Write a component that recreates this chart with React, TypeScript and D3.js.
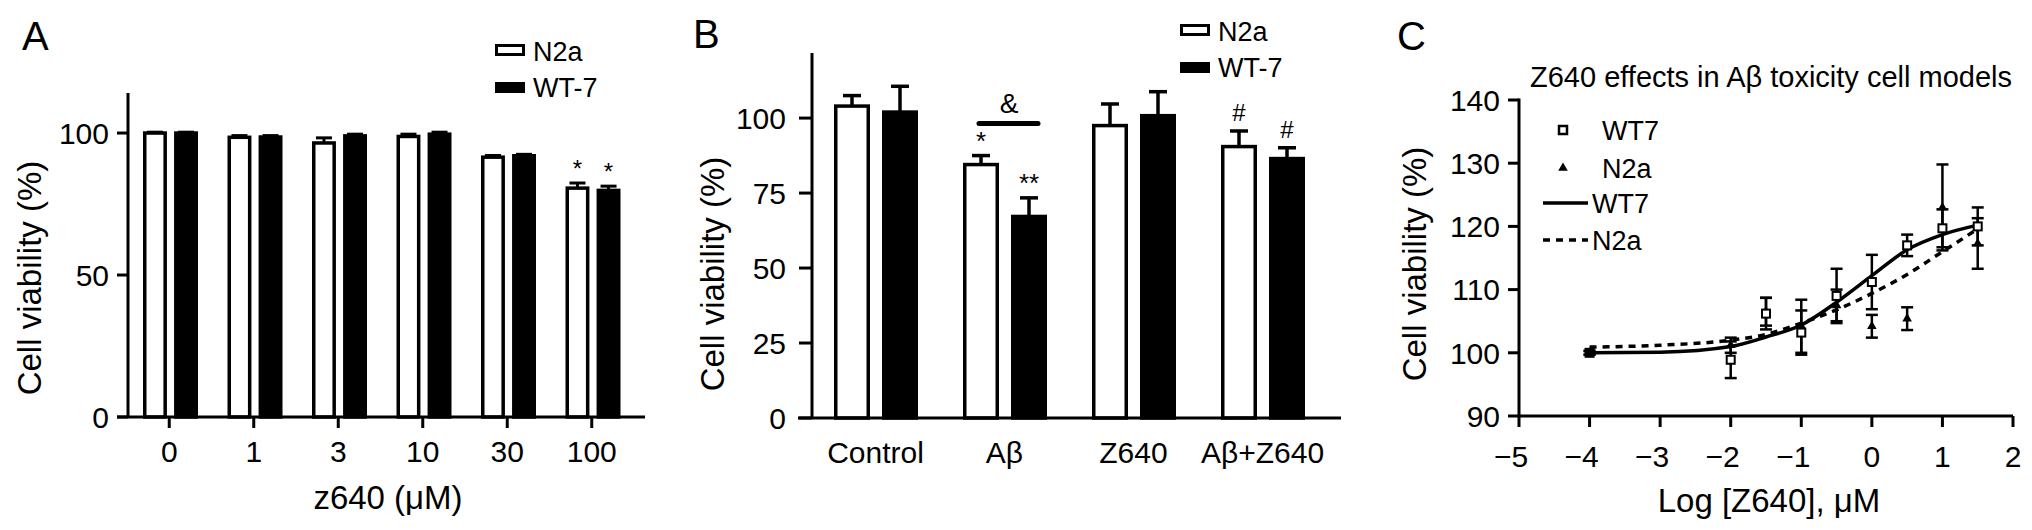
import React from 'react';
import * as d3 from 'd3';

// ---------- Panel A data ----------
const concA = ['0', '1', '3', '10', '30', '100'];
const seriesNames = ['N2a', 'WT-7'];
const n2aA = [100, 98.5, 96.5, 98.8, 91.5, 80.6];
const n2aAErr = [0.3, 0.6, 1.8, 0.8, 0.6, 1.8];
const wt7A = [100, 98.6, 99.0, 99.6, 92.0, 79.8];
const wt7AErr = [0.3, 0.5, 0.6, 0.7, 0.5, 1.5];
const n2aASig = ['', '', '', '', '', '*'];
const wt7ASig = ['', '', '', '', '', '*'];
const ticksA = [0, 50, 100];

// ---------- Panel B data ----------
const groupsB = ['Control', 'Aβ', 'Z640', 'Aβ+Z640'];
const n2aB = [104, 84.5, 97.5, 90.5];
const n2aBErr = [3.5, 3.0, 7.2, 5.2];
const wt7B = [102, 67.2, 100.8, 86.5];
const wt7BErr = [8.6, 6.2, 8.0, 3.6];
const n2aBSig = ['', '*', '', '#'];
const wt7BSig = ['', '**', '', '#'];
const ticksB = [0, 25, 50, 75, 100];

// ---------- Panel C data ----------
const logC = [-4, -2, -1.5, -1, -0.5, 0, 0.5, 1, 1.5];
const wt7C = [100, 98.9, 106.2, 103.2, 109.0, 111.2, 117.0, 119.7, 120.0];
const wt7CErr = [0.3, 2.9, 2.5, 3.5, 4.3, 4.3, 1.7, 3.0, 3.0];
const n2aC = [100, 101.2, 106.5, 104.2, 107.5, 104.2, 105.4, 123.0, 117.3];
const n2aCErr = [0.3, 1.2, 2.2, 4.2, 2.5, 1.8, 1.8, 6.8, 4.0];
const fitX = [-4, -3, -2, -1.5, -1, -0.5, 0, 0.5, 1, 1.5];
const fitWT7 = [100.0, 100.1, 101.0, 102.5, 104.4, 108.0, 112.2, 116.3, 118.7, 120.2];
const fitN2a = [100.9, 101.2, 102.0, 102.9, 104.7, 106.8, 109.4, 112.4, 116.0, 119.6];
const ticksCx = [-5, -4, -3, -2, -1, 0, 1, 2];
const ticksCy = [90, 100, 110, 120, 130, 140];

const FONT = "'Liberation Sans', Arial, Helvetica, sans-serif";
const BAR_STROKE = 3.5;
const AXIS_STROKE = 3;

function fmtMinus(v: number) {
  return v < 0 ? '\u2212' + Math.abs(v) : String(v);
}

function PanelA() {
  const y = d3.scaleLinear().domain([0, 114.1]).range([417, 93]);
  const x = d3.scaleBand().domain(concA).range([127, 634]).padding(0);
  const xi = d3.scaleBand().domain(seriesNames).range([16, 71]).paddingInner(0.23);
  const bw = xi.bandwidth();
  const vals = [n2aA, wt7A];
  const errs = [n2aAErr, wt7AErr];
  const sigs = [n2aASig, wt7ASig];
  return (
    <g>
      <text x={22} y={50} fontSize={40} fontFamily={FONT}>A</text>
      {concA.map((c, gi) =>
        seriesNames.map((s, si) => {
          const x0 = (x(c) as number) + (xi(s) as number);
          const v = vals[si][gi];
          const e = errs[si][gi];
          const cx = x0 + bw / 2;
          const white = si === 0;
          return (
            <g key={c + s}>
              <line x1={cx} x2={cx} y1={y(v)} y2={y(v + e)} stroke="#000" strokeWidth={3} />
              <line x1={cx - 8} x2={cx + 8} y1={y(v + e)} y2={y(v + e)} stroke="#000" strokeWidth={3} />
              <rect
                x={x0 + BAR_STROKE / 2}
                y={y(v)}
                width={bw - BAR_STROKE}
                height={y(0) - y(v)}
                fill={white ? '#fff' : '#000'}
                stroke="#000"
                strokeWidth={BAR_STROKE}
              />
              {sigs[si][gi] && (
                <text x={cx} y={y(v + e) - 6} textAnchor="middle" fontSize={24} fontFamily={FONT}>
                  {sigs[si][gi]}
                </text>
              )}
            </g>
          );
        })
      )}
      <line x1={128} x2={128} y1={y.range()[1]} y2={y(0)} stroke="#000" strokeWidth={AXIS_STROKE} />
      <line x1={117} x2={645} y1={y(0)} y2={y(0)} stroke="#000" strokeWidth={AXIS_STROKE} />
      {ticksA.map((t) => (
        <g key={t}>
          <line x1={117} x2={128} y1={y(t)} y2={y(t)} stroke="#000" strokeWidth={AXIS_STROKE} />
          <text x={109} y={y(t)} dy="0.36em" textAnchor="end" fontSize={30} fontFamily={FONT}>{t}</text>
        </g>
      ))}
      {concA.map((c) => {
        const cx = (x(c) as number) + x.bandwidth() / 2;
        return (
          <g key={c}>
            <line x1={cx} x2={cx} y1={y(0)} y2={y(0) + 11} stroke="#000" strokeWidth={AXIS_STROKE} />
            <text x={cx} y={451} dy="0.36em" textAnchor="middle" fontSize={30} fontFamily={FONT}>{c}</text>
          </g>
        );
      })}
      <text x={388} y={497} dy="0.36em" textAnchor="middle" fontSize={33} fontFamily={FONT}>z640 (μM)</text>
      <text transform="translate(29,278) rotate(-90)" dy="0.36em" textAnchor="middle" fontSize={33} fontFamily={FONT}>
        Cell viability (%)
      </text>
      <rect x={496.5} y={45.5} width={27} height={9} fill="#fff" stroke="#000" strokeWidth={3} />
      <text x={533} y={51} dy="0.36em" fontSize={27} fontFamily={FONT}>N2a</text>
      <rect x={495} y={82} width={30} height={11} fill="#000" />
      <text x={533} y={87} dy="0.36em" fontSize={27} fontFamily={FONT}>WT-7</text>
    </g>
  );
}

function PanelB() {
  const y = d3.scaleLinear().domain([0, 121.7]).range([418, 53]);
  const x = d3.scaleBand().domain(groupsB).range([811, 1327]).padding(0);
  const xi = d3.scaleBand().domain(seriesNames).range([23, 107]).paddingInner(0.25);
  const bw = xi.bandwidth();
  const vals = [n2aB, wt7B];
  const errs = [n2aBErr, wt7BErr];
  const sigs = [n2aBSig, wt7BSig];
  const abStart = x('Aβ') as number;
  const abLeft = abStart + (xi('N2a') as number) + bw / 2;
  const abRight = abStart + (xi('WT-7') as number) + bw / 2;
  return (
    <g>
      <text x={693} y={48} fontSize={40} fontFamily={FONT}>B</text>
      {groupsB.map((g, gi) =>
        seriesNames.map((s, si) => {
          const x0 = (x(g) as number) + (xi(s) as number);
          const v = vals[si][gi];
          const e = errs[si][gi];
          const cx = x0 + bw / 2;
          const white = si === 0;
          return (
            <g key={g + s}>
              <line x1={cx} x2={cx} y1={y(v)} y2={y(v + e)} stroke="#000" strokeWidth={3.5} />
              <line x1={cx - 9} x2={cx + 9} y1={y(v + e)} y2={y(v + e)} stroke="#000" strokeWidth={3.5} />
              <rect
                x={x0 + BAR_STROKE / 2}
                y={y(v)}
                width={bw - BAR_STROKE}
                height={y(0) - y(v)}
                fill={white ? '#fff' : '#000'}
                stroke="#000"
                strokeWidth={BAR_STROKE}
              />
              {sigs[si][gi] && (
                <text
                  x={cx}
                  y={y(v + e) - (sigs[si][gi] === '#' ? 10 : 6)}
                  textAnchor="middle"
                  fontSize={sigs[si][gi] === '#' ? 24 : 26}
                  fontFamily={FONT}
                >
                  {sigs[si][gi]}
                </text>
              )}
            </g>
          );
        })
      )}
      <line x1={abLeft - 2} x2={abRight + 9} y1={y(98.2)} y2={y(98.2)} stroke="#000" strokeWidth={5} strokeLinecap="round" />
      <text x={(abLeft + abRight) / 2 + 4} y={y(105)} dy="0.36em" textAnchor="middle" fontSize={28} fontFamily={FONT}>&amp;</text>
      <line x1={812} x2={812} y1={y.range()[1]} y2={y(0)} stroke="#000" strokeWidth={AXIS_STROKE} />
      <line x1={798} x2={1341} y1={y(0)} y2={y(0)} stroke="#000" strokeWidth={AXIS_STROKE} />
      {ticksB.map((t) => (
        <g key={t}>
          <line x1={799} x2={812} y1={y(t)} y2={y(t)} stroke="#000" strokeWidth={AXIS_STROKE} />
          <text x={786} y={y(t)} dy="0.36em" textAnchor="end" fontSize={30} fontFamily={FONT}>{t}</text>
        </g>
      ))}
      {groupsB.map((g) => {
        const cx = (x(g) as number) + x.bandwidth() / 2;
        return (
          <text key={g} x={cx} y={452} dy="0.36em" textAnchor="middle" fontSize={30} fontFamily={FONT}>{g}</text>
        );
      })}
      <text transform="translate(712,274) rotate(-90)" dy="0.36em" textAnchor="middle" fontSize={33} fontFamily={FONT}>
        Cell viability (%)
      </text>
      <rect x={1181.5} y={25.5} width={27} height={9} fill="#fff" stroke="#000" strokeWidth={3} />
      <text x={1218} y={31} dy="0.36em" fontSize={27} fontFamily={FONT}>N2a</text>
      <rect x={1180} y={62} width={30} height={11} fill="#000" />
      <text x={1218} y={67} dy="0.36em" fontSize={27} fontFamily={FONT}>WT-7</text>
    </g>
  );
}

function PanelC() {
  const x = d3.scaleLinear().domain([-5, 2]).range([1519, 2013]);
  const y = d3.scaleLinear().domain([90, 140]).range([416, 100]);
  const line = d3
    .line<number>()
    .x((_, i) => x(fitX[i]))
    .y((d) => y(d))
    .curve(d3.curveMonotoneX);
  const tri = d3.symbol().type(d3.symbolTriangle).size(40)();
  const errBar = (cx: number, m: number, e: number, key: string) => (
    <g key={key}>
      <line x1={cx} x2={cx} y1={y(m - e)} y2={y(m + e)} stroke="#000" strokeWidth={2.5} />
      <line x1={cx - 6} x2={cx + 6} y1={y(m - e)} y2={y(m - e)} stroke="#000" strokeWidth={2.5} />
      <line x1={cx - 6} x2={cx + 6} y1={y(m + e)} y2={y(m + e)} stroke="#000" strokeWidth={2.5} />
    </g>
  );
  return (
    <g>
      <text x={1397} y={50} fontSize={40} fontFamily={FONT}>C</text>
      <text x={1771} y={77} dy="0.36em" textAnchor="middle" fontSize={29} fontFamily={FONT}>
        Z640 effects in Aβ toxicity cell models
      </text>
      {logC.map((l, i) => errBar(x(l), n2aC[i], n2aCErr[i], 'n' + i))}
      {logC.map((l, i) => errBar(x(l), wt7C[i], wt7CErr[i], 'w' + i))}
      <path d={line(fitWT7) || ''} fill="none" stroke="#000" strokeWidth={3.5} />
      <path d={line(fitN2a) || ''} fill="none" stroke="#000" strokeWidth={3.5} strokeDasharray="7 6" />
      {logC.map((l, i) => (
        <path key={'tn' + i} d={tri || ''} transform={`translate(${x(l)},${y(n2aC[i])})`} fill="#000" />
      ))}
      {logC.map((l, i) => (
        <rect
          key={'sq' + i}
          x={x(l) - 4}
          y={y(wt7C[i]) - 4}
          width={8}
          height={8}
          fill={i === 0 ? '#000' : '#fff'}
          stroke="#000"
          strokeWidth={2}
        />
      ))}
      <line x1={1519} x2={1519} y1={y(140) - 1.5} y2={y(90)} stroke="#000" strokeWidth={AXIS_STROKE} />
      <line x1={1519} x2={2013} y1={y(90)} y2={y(90)} stroke="#000" strokeWidth={AXIS_STROKE} />
      {ticksCy.map((t) => (
        <g key={t}>
          <line x1={1508} x2={1519} y1={y(t)} y2={y(t)} stroke="#000" strokeWidth={AXIS_STROKE} />
          <text x={1500} y={y(t)} dy="0.36em" textAnchor="end" fontSize={30} fontFamily={FONT}>{t}</text>
        </g>
      ))}
      {ticksCx.map((t) => (
        <g key={t}>
          <line x1={x(t)} x2={x(t)} y1={y(90)} y2={y(90) + 11} stroke="#000" strokeWidth={AXIS_STROKE} />
          <text x={x(t) - (t < 0 ? 8 : 0)} y={456} dy="0.36em" textAnchor="middle" fontSize={30} fontFamily={FONT}>
            {fmtMinus(t)}
          </text>
        </g>
      ))}
      <text x={1769} y={500} dy="0.36em" textAnchor="middle" fontSize={33} fontFamily={FONT}>Log [Z640], μM</text>
      <text transform="translate(1414,264) rotate(-90)" dy="0.36em" textAnchor="middle" fontSize={33} fontFamily={FONT}>
        Cell viability (%)
      </text>
      <rect x={1559} y={126} width={8} height={8} fill="#fff" stroke="#000" strokeWidth={2.5} />
      <text x={1602} y={130} dy="0.36em" fontSize={27} fontFamily={FONT}>WT7</text>
      <path d={tri || ''} transform="translate(1563,168)" fill="#000" />
      <text x={1602} y={168} dy="0.36em" fontSize={27} fontFamily={FONT}>N2a</text>
      <line x1={1543} x2={1588} y1={203} y2={203} stroke="#000" strokeWidth={3.5} />
      <text x={1592} y={203} dy="0.36em" fontSize={27} fontFamily={FONT}>WT7</text>
      <line x1={1543} x2={1588} y1={240} y2={240} stroke="#000" strokeWidth={3.5} strokeDasharray="7 6" />
      <text x={1592} y={240} dy="0.36em" fontSize={27} fontFamily={FONT}>N2a</text>
    </g>
  );
}

export default function App() {
  return (
    <svg
      width={2032}
      height={530}
      viewBox="0 0 2032 530"
      style={{ position: 'absolute', left: 0, top: 0, background: '#fff', display: 'block' }}
    >
      <rect x={0} y={0} width={2032} height={530} fill="#fff" />
      <PanelA />
      <PanelB />
      <PanelC />
    </svg>
  );
}
